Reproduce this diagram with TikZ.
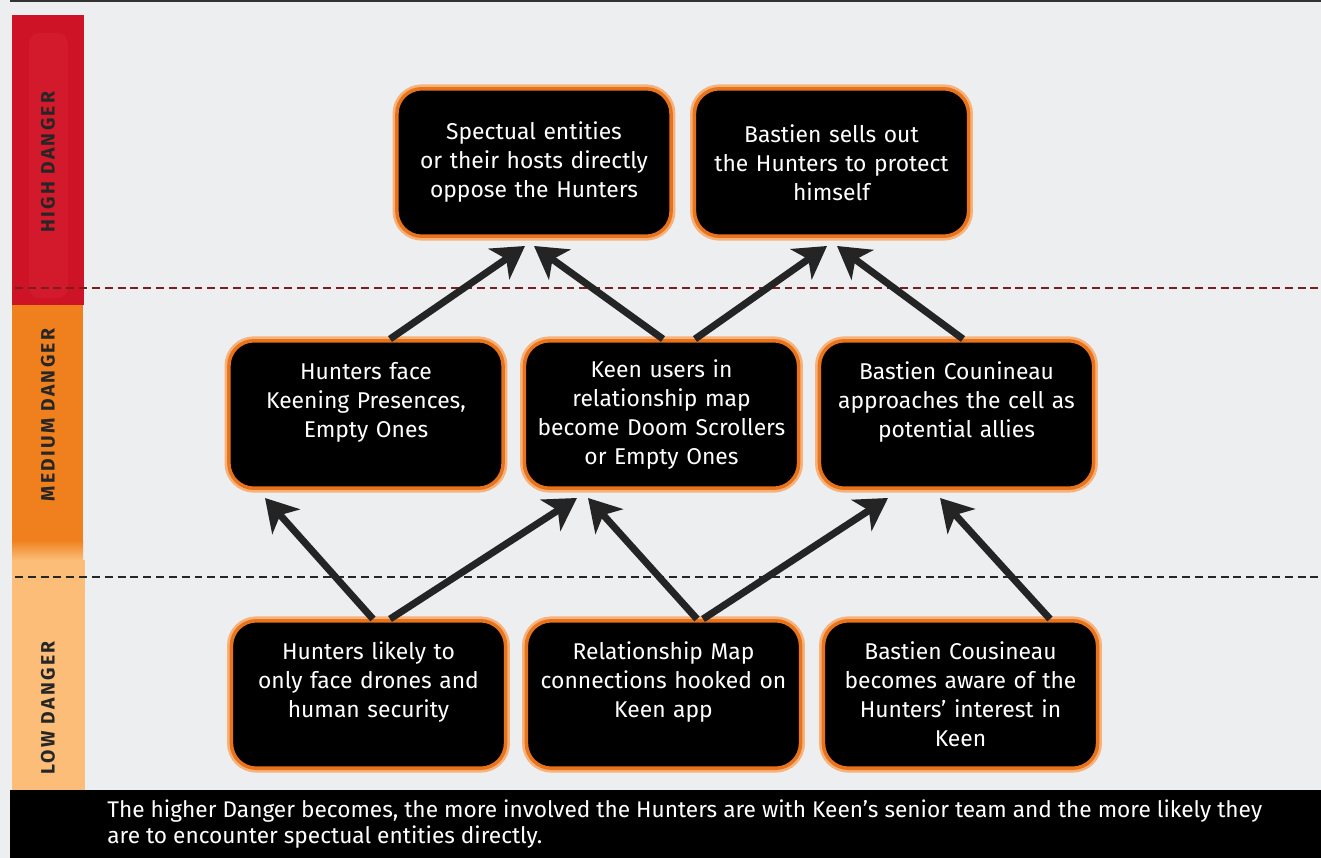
\documentclass[tikz,border=0pt]{standalone}
\usepackage{fontspec}
\setmainfont{Fira Sans}
\newfontfamily\tagfont[LetterSpace=12]{Fira Sans}
\usetikzlibrary{calc}
\usetikzlibrary{arrows.meta}

\definecolor{paper}{HTML}{ECEEF0}
\definecolor{hired}{HTML}{CE1327}
\definecolor{hiredlight}{HTML}{D31A2C}
\definecolor{midorange}{HTML}{F0801E}
\definecolor{loworange}{HTML}{FBBD78}
\definecolor{boxedge}{HTML}{E8731A}
\definecolor{boxglow}{HTML}{F6B27A}
\definecolor{arrowgrey}{HTML}{242424}
\definecolor{redline}{HTML}{7A1F1F}

\begin{document}
\begin{tikzpicture}[x=0.02cm, y=-0.02cm,
  dangerbox/.style={draw=boxedge, line width=2pt, fill=black, rounded corners=0.5cm,
    minimum width=5.3cm, minimum height=2.95cm, text width=5.25cm, align=center,
    text=white, font=\fontsize{13}{16.5}\selectfont,
    preaction={draw=boxglow, line width=5pt}},
  tag/.style={rotate=90, text=black!85, font=\tagfont\bfseries\fontsize{11}{12}\selectfont},
  up/.style={draw=arrowgrey, line width=4pt, -{Stealth[length=18pt,width=21pt,inset=5pt]}},
  dashline/.style={line width=1.1pt, dash pattern=on 4.5pt off 2.8pt}]
\useasboundingbox (0,0) rectangle (1321,858);
\fill[paper] (0,0) rectangle (1321,858);
\fill[black!80] (10,0) rectangle (1321,2);

% danger scale on the left
\fill[hired] (12,15) rectangle (84,305);
\fill[hiredlight, rounded corners=6] (29,33) rectangle (68,298);
\fill[midorange] (12,305) rectangle (83,540);
\shade[top color=midorange, bottom color=loworange] (12,540) rectangle (83,560);
\fill[loworange] (12,560) rectangle (85,790);
\node[tag] (high) at (48,162) {HIGH DANGER};
\node[tag] (medium) at (48,415) {MEDIUM DANGER};
\node[tag] (low) at (48,708) {LOW DANGER};

\draw[dashline, draw=redline] (15,288) -- (1321,288);
\draw[dashline, draw=black!85] (15,577) -- (1321,577);

% boxes
\node[dangerbox] (b1) at (534,162.5) {Spectual entities\\or their hosts directly\\oppose the Hunters};
\node[dangerbox] (b2) at (831.5,162.5) {Bastien sells out\\the Hunters to protect\\himself};
\node[dangerbox] (b3) at (366,414.5) {Hunters face\\Keening Presences,\\Empty Ones\\~};
\node[dangerbox] (b4) at (661.5,414.5) {Keen users in\\relationship map\\become Doom Scrollers\\or Empty Ones};
\node[dangerbox] (b5) at (956.5,414.5) {Bastien Counineau\\approaches the cell as\\potential allies\\~};
\node[dangerbox] (b6) at (368.5,694.5) {Hunters likely to\\only face drones and\\human security\\~};
\node[dangerbox] (b7) at (663.5,694.5) {Relationship Map\\connections hooked on\\Keen app\\~};
\node[dangerbox] (b8) at (960.5,694.5) {Bastien Cousineau\\becomes aware of the\\Hunters' interest in\\Keen};

% arrows up the scale
\foreach \s/\sx/\t/\tx in {b3/24/b1/-9, b4/1.5/b1/0, b4/33.5/b2/-4.5, b5/6.5/b2/5.5,
  b6/4.5/b3/-101, b6/21.5/b4/-84.5, b7/33.5/b4/-73.5, b7/39.5/b5/-68.5, b8/89.5/b5/-16.5} {
 \draw[up] ($(\s.north)+(\sx,0)$) -- ($(\t.south)+(\tx,8)$);
}

% note at the bottom
\fill[black] (10,790) rectangle (1321,858);
\node[anchor=north west, inner sep=0, align=left, text=white,
  font=\fontsize{12.9}{14.9}\selectfont] (note) at (107,799)
  {The higher Danger becomes, the more involved the Hunters are with Keen’s senior team and the more likely they\\are to encounter spectual entities directly.};
\end{tikzpicture}
\end{document}
